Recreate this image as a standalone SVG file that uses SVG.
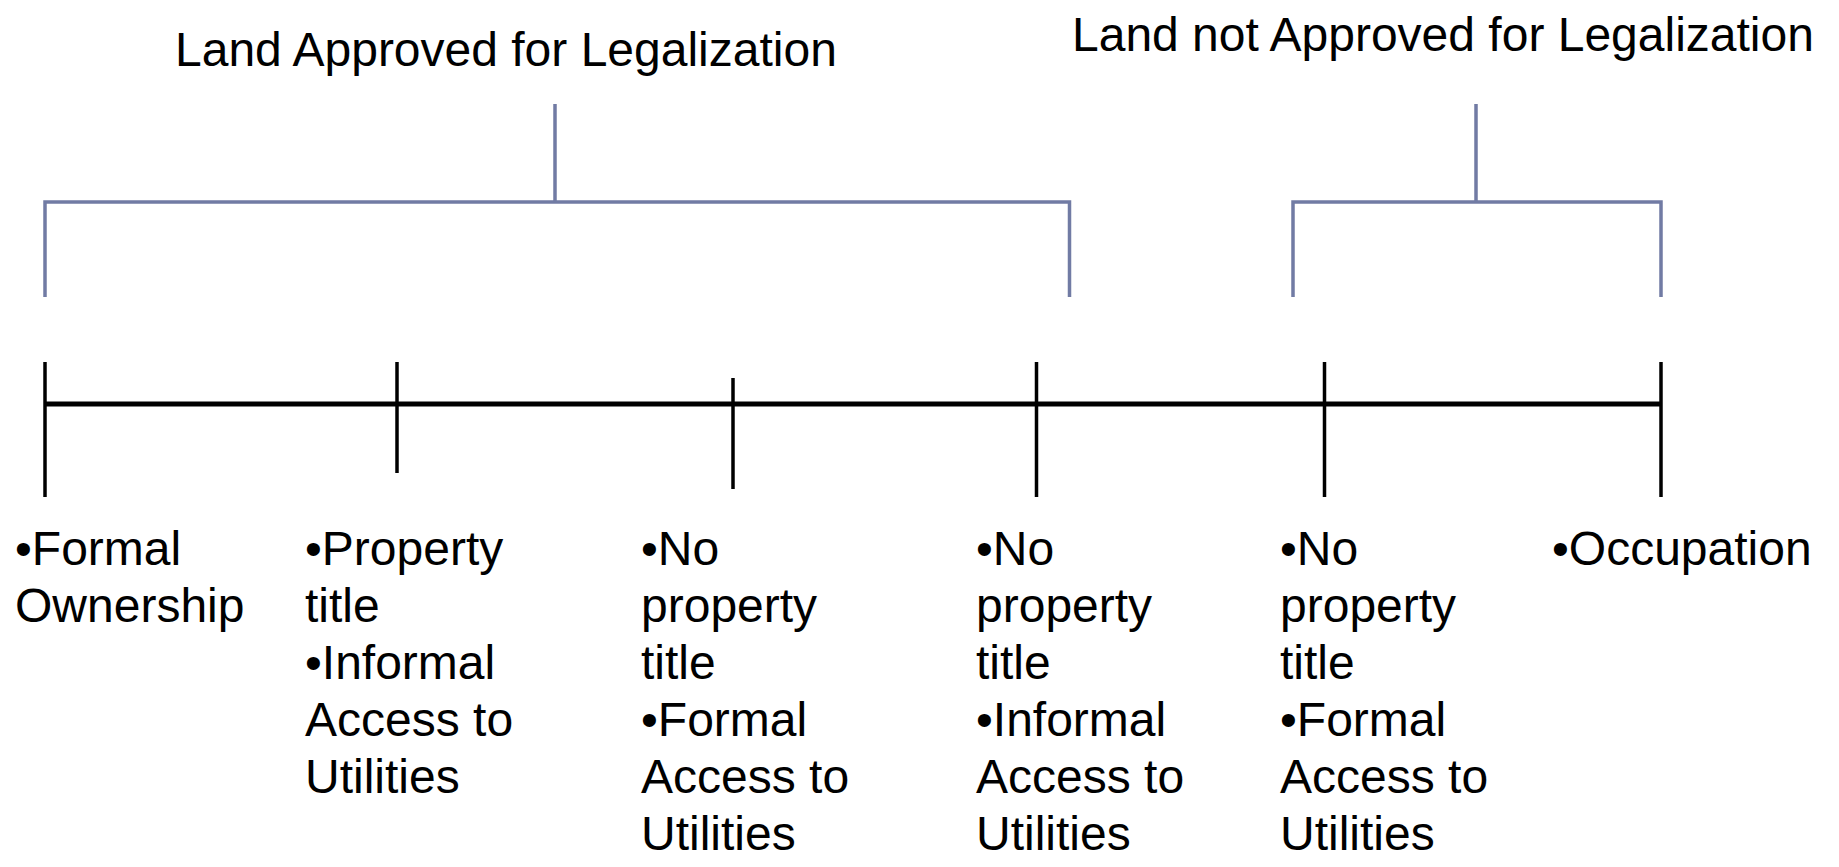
<svg xmlns="http://www.w3.org/2000/svg" width="1839" height="867" viewBox="0 0 1839 867">
<style>
text{font-family:"Liberation Sans",Arial,sans-serif;font-size:48px;fill:#000}
.br{fill:none;stroke:#717BA4;stroke-width:3.5;stroke-linejoin:miter;stroke-linecap:butt}
.tl{stroke:#000;stroke-width:5}
.tk{stroke:#000;stroke-width:3.5}
</style>
<rect width="1839" height="867" fill="#fff"/>
<g id="connectors">
<path class="br" d="M555,104V202M45,297V202H1069.5V297"/>
<path class="br" d="M1476,104V202M1293,297V202H1661V297"/>
<line class="tl" x1="45" y1="404" x2="1661" y2="404"/>
<line class="tk" x1="45" y1="362" x2="45" y2="497"/>
<line class="tk" x1="397" y1="362" x2="397" y2="473"/>
<line class="tk" x1="733" y1="378" x2="733" y2="489"/>
<line class="tk" x1="1036.5" y1="362" x2="1036.5" y2="497"/>
<line class="tk" x1="1324.5" y1="362" x2="1324.5" y2="497"/>
<line class="tk" x1="1661" y1="362" x2="1661" y2="497"/>
</g>
<g id="title-approved"><text x="175" y="65.7">Land Approved for Legalization</text></g>
<g id="title-not-approved"><text x="1072" y="50.7">Land not Approved for Legalization</text></g>
<g id="label1"><text x="15" y="565">•Formal</text><text x="15" y="622">Ownership</text></g>
<g id="label2"><text x="305" y="565">•Property</text><text x="305" y="622">title</text><text x="305" y="679">•Informal</text><text x="305" y="736">Access to</text><text x="305" y="793">Utilities</text></g>
<g id="label3"><text x="641" y="565">•No</text><text x="641" y="622">property</text><text x="641" y="679">title</text><text x="641" y="736">•Formal</text><text x="641" y="793">Access to</text><text x="641" y="850">Utilities</text></g>
<g id="label4"><text x="976" y="565">•No</text><text x="976" y="622">property</text><text x="976" y="679">title</text><text x="976" y="736">•Informal</text><text x="976" y="793">Access to</text><text x="976" y="850">Utilities</text></g>
<g id="label5"><text x="1280" y="565">•No</text><text x="1280" y="622">property</text><text x="1280" y="679">title</text><text x="1280" y="736">•Formal</text><text x="1280" y="793">Access to</text><text x="1280" y="850">Utilities</text></g>
<g id="label6"><text x="1552" y="565">•Occupation</text></g>
</svg>
